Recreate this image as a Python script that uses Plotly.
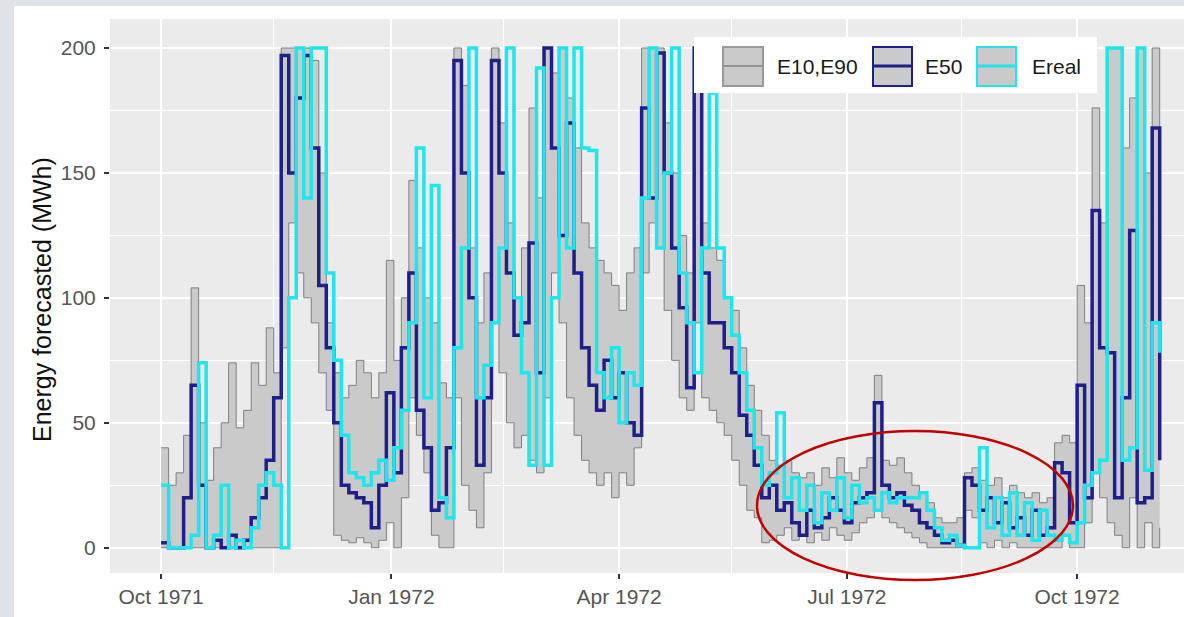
import plotly.graph_objects as go
import pandas as pd

# ---------------- data (3-day steps) ----------------
start_date = "1971-10-01"
step_days = 3

e90 = [40, 25, 30, 45, 104, 50, 27, 40, 50, 74,
       48, 55, 74, 65, 88, 70, 200, 200, 200, 200,
       195, 150, 90, 70, 60, 65, 75, 70, 60, 70,
       115, 75, 100, 147, 120, 100, 90, 66, 60, 200,
       185, 120, 90, 110, 200, 170, 130, 100, 120, 176,
       140, 200, 190, 200, 180, 160, 130, 120, 115, 110,
       105, 95, 110, 120, 200, 200, 200, 170, 150, 125,
       110, 200, 130, 120, 115, 100, 95, 80, 65, 55,
       45, 35, 33, 35, 30, 28, 30, 25, 32, 28,
       36, 30, 27, 32, 36, 69, 35, 33, 36, 30,
       25, 22, 18, 12, 10, 10, 12, 30, 32, 27,
       25, 28, 20, 25, 22, 20, 22, 18, 20, 42,
       45, 42, 105, 90, 176, 130, 200, 200, 160, 180,
       200, 150, 200, 130]

e10 = [0, 0, 0, 0, 0, 0, 0, 0, 0, 0,
       0, 0, 0, 0, 0, 0, 80, 130, 110, 100,
       90, 70, 55, 5, 3, 2, 4, 2, 0, 3,
       10, 0, 20, 60, 45, 30, 5, 0, 0, 60,
       25, 15, 8, 30, 90, 70, 50, 40, 45, 35,
       30, 60, 110, 90, 60, 45, 35, 30, 25, 30,
       20, 30, 25, 40, 110, 130, 120, 95, 75, 60,
       55, 90, 60, 55, 50, 45, 35, 25, 15, 12,
       2, 3, 5, 8, 3, 5, 2, 6, 3, 8,
       5, 3, 6, 10, 12, 15, 12, 10, 8, 6,
       4, 2, 0, 0, 0, 0, 0, 15, 12, 2,
       0, 3, 0, 2, 0, 0, 0, 0, 0, 0,
       5, 0, 0, 10, 30, 20, 10, 5, 0, 20,
       0, 10, 0, 8]

e50 = [2, 0, 0, 20, 65, 25, 0, 3, 0, 5,
       0, 3, 12, 20, 35, 60, 197, 150, 180, 197,
       160, 105, 80, 50, 25, 22, 20, 18, 8, 25,
       62, 30, 80, 110, 55, 40, 15, 18, 40, 195,
       150, 100, 33, 60, 195, 150, 110, 85, 90, 122,
       70, 200, 160, 125, 170, 110, 80, 65, 55, 75,
       60, 70, 50, 45, 176, 140, 198, 150, 120, 96,
       64, 200, 110, 90, 90, 80, 70, 53, 45, 33,
       20, 25, 15, 18, 10, 5, 15, 8, 12, 20,
       15, 10, 18, 20, 22, 58, 25, 20, 22, 17,
       15, 10, 8, 5, 2, 3, 1, 28, 25, 15,
       20, 10, 18, 8, 12, 5, 15, 5, 8, 34,
       30, 10, 65, 20, 135, 80, 78, 20, 60, 127,
       18, 20, 168, 35]

ereal = [25, 0, 0, 0, 5, 74, 0, 5, 25, 0,
         3, 0, 8, 25, 30, 25, 0, 100, 200, 140,
         200, 200, 110, 75, 45, 30, 28, 25, 30, 35,
         27, 40, 55, 90, 160, 60, 145, 20, 12, 80,
         120, 200, 60, 73, 90, 120, 200, 100, 70, 33,
         192, 33, 100, 200, 120, 200, 160, 159, 70, 60,
         80, 50, 70, 65, 140, 200, 120, 150, 200, 110,
         90, 70, 120, 182, 120, 100, 85, 70, 55, 40,
         25, 30, 54, 20, 28, 15, 25, 10, 22, 15,
         28, 12, 25, 18, 20, 15, 22, 18, 20, 20,
         20, 22, 15, 8, 3, 5, 1, 0, 0, 40,
         8, 20, 5, 22, 5, 18, 3, 15, 5, 3,
         5, 2, 10, 25, 30, 35, 200, 200, 35, 40,
         200, 31, 90, 78]

tick_dates = ["1971-10-01", "1972-01-01", "1972-04-01", "1972-07-01", "1972-10-01"]
tick_labels = ["Oct 1971", "Jan 1972", "Apr 1972", "Jul 1972", "Oct 1972"]
minor_dates = ["1971-11-15", "1972-02-15", "1972-05-16", "1972-08-16"]
y_ticks = [0, 50, 100, 150, 200]
y_minor = [25, 75, 125, 175]
legend_labels = ["E10,E90", "E50", "Ereal"]
y_title = "Energy forecasted (MWh)"

# ---------------- styling ----------------
W, H = 1184, 617
L, T, PW, PH = 110, 19, 1074, 554
FONT = "Liberation Sans, Arial, sans-serif"
C_BAND_LINE = "#7f7f7f"
C_BAND_FILL = "#cacaca"
C_E50 = "#1f1f8a"
C_REAL = "#1fe6ec"


def px(x):
    return (x - L) / PW


def py(y):
    return (T + PH - y) / PH


dates = pd.date_range(start_date, periods=len(e50), freq=f"{step_days}D")

fig = go.Figure()
fig.add_trace(go.Scatter(x=dates, y=e10, mode="lines", showlegend=False,
                         line=dict(color=C_BAND_LINE, width=1, shape="hv"),
                         hoverinfo="skip"))
fig.add_trace(go.Scatter(x=dates, y=e90, mode="lines", showlegend=False,
                         fill="tonexty", fillcolor=C_BAND_FILL,
                         line=dict(color=C_BAND_LINE, width=1, shape="hv")))
fig.add_trace(go.Scatter(x=dates, y=e50, mode="lines", showlegend=False,
                         line=dict(color=C_E50, width=3.5, shape="hv")))
fig.add_trace(go.Scatter(x=dates, y=ereal, mode="lines", showlegend=False,
                         line=dict(color=C_REAL, width=3.5, shape="hv")))

shapes = []
# screenshot frame strips
shapes.append(dict(type="rect", xref="paper", yref="paper", layer="below",
                   x0=px(0), x1=px(14), y0=py(H), y1=py(0),
                   fillcolor="#dfe3e8", line=dict(width=0)))
shapes.append(dict(type="rect", xref="paper", yref="paper", layer="below",
                   x0=px(0), x1=px(W), y0=py(6), y1=py(0),
                   fillcolor="#dfe3e8", line=dict(width=0)))

# custom legend
shapes.append(dict(type="rect", xref="paper", yref="paper", layer="above",
                   x0=px(694), x1=px(1097), y0=py(93), y1=py(37),
                   fillcolor="white", line=dict(width=0)))
keys = [(723, 763, C_BAND_LINE, "#999999", 1.5),
        (873, 912, C_E50, C_E50, 3),
        (977, 1016, C_REAL, C_REAL, 3)]
text_x = [775, 923, 1030]
for (k0, k1, lc, bc, lw), tx, lab in zip(keys, text_x, legend_labels):
    shapes.append(dict(type="rect", xref="paper", yref="paper", layer="above",
                       x0=px(k0), x1=px(k1), y0=py(86), y1=py(47),
                       fillcolor=C_BAND_FILL, line=dict(color=bc, width=2)))
    shapes.append(dict(type="line", xref="paper", yref="paper", layer="above",
                       x0=px(k0 + 1), x1=px(k1 - 1), y0=py(66), y1=py(66),
                       line=dict(color=lc, width=lw)))
    fig.add_annotation(xref="paper", yref="paper", x=px(tx), y=py(66),
                       xanchor="left", yanchor="middle", showarrow=False,
                       text=lab, font=dict(family=FONT, size=21, color="#1a1a1a"))

# red highlight ellipse
shapes.append(dict(type="circle", xref="paper", yref="paper", layer="above",
                   x0=px(757), x1=px(1073), y0=py(580), y1=py(431),
                   line=dict(color="#c00000", width=2.5)))

fig.add_annotation(xref="paper", yref="paper", x=px(42), y=py(300),
                   xanchor="center", yanchor="middle", showarrow=False,
                   textangle=-90, text=y_title,
                   font=dict(family=FONT, size=25, color="#111111"))

fig.update_layout(
    width=W, height=H,
    margin=dict(l=L, r=W - L - PW, t=T, b=H - T - PH, autoexpand=False),
    paper_bgcolor="white", plot_bgcolor="#ebebeb",
    shapes=shapes,
    font=dict(family=FONT),
    xaxis=dict(range=["1971-09-10 14:00", "1972-11-12 17:00"],
               tickmode="array", tickvals=tick_dates, ticktext=tick_labels,
               ticks="outside", ticklen=5, tickwidth=1.5, tickcolor="#333333",
               tickfont=dict(family=FONT, size=21, color="#555555"),
               showgrid=True, gridcolor="white", gridwidth=2,
               zeroline=False, showline=False,
               minor=dict(tickmode="array", tickvals=minor_dates, showgrid=True,
                          gridcolor="white", gridwidth=1, ticks="")),
    yaxis=dict(range=[-10.1, 211.6],
               tickmode="array", tickvals=y_ticks,
               ticks="outside", ticklen=5, tickwidth=1.5, tickcolor="#333333",
               ticklabelstandoff=4,
               tickfont=dict(family=FONT, size=21, color="#555555"),
               showgrid=True, gridcolor="white", gridwidth=2,
               zeroline=False, showline=False,
               minor=dict(tickmode="array", tickvals=y_minor, showgrid=True,
                          gridcolor="white", gridwidth=1, ticks="")),
)

fig.write_html("out.html",
               config={"displayModeBar": False},
               post_script="document.body.style.margin='0';"
                           "document.body.style.overflow='hidden';")
